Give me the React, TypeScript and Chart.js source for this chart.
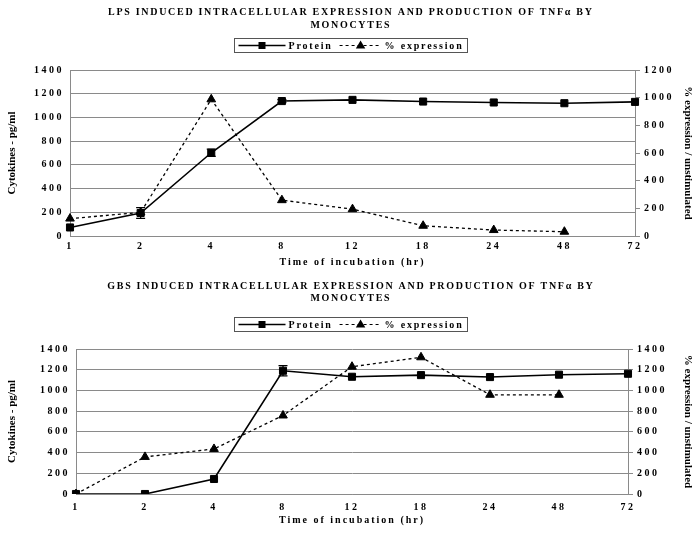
import React, { useEffect, useRef } from "react";
import { Chart, registerables } from "chart.js";

Chart.register(...registerables);

// ---------- data ----------
const timeLabels = ["1", "2", "4", "8", "12", "18", "24", "48", "72"];

const lpsProtein = [72, 194, 702, 1138, 1148, 1134, 1126, 1120, 1131];
const lpsProteinErr = [0, 45, 30, 12, 0, 0, 0, 0, 0];
const lpsExpression = [126, 170, 988, 259, 194, 74, 43, 31, null];

const gbsProtein = [0, 0, 145, 1190, 1132, 1148, 1129, 1152, 1161];
const gbsProteinErr = [0, 0, 0, 50, 0, 0, 0, 0, 0];
const gbsExpression = [0, 358, 435, 758, 1229, 1320, 958, 958, null];

const cytokineTicks = [0, 200, 400, 600, 800, 1000, 1200, 1400];
const lpsExpressionTicks = [0, 200, 400, 600, 800, 1000, 1200];
const gbsExpressionTicks = [0, 200, 400, 600, 800, 1000, 1200, 1400];

const seriesNames = ["Protein", "% expression"];
const lpsTitle = ["LPS INDUCED INTRACELLULAR EXPRESSION AND PRODUCTION OF TNFα BY", "MONOCYTES"];
const gbsTitle = ["GBS INDUCED INTRACELLULAR EXPRESSION AND PRODUCTION OF TNFα BY", "MONOCYTES"];
const xAxisTitle = "Time of incubation (hr)";
const leftAxisTitle = "Cytokines - pg/ml";
const rightAxisTitle = "% expression / unstimulated";

// ---------- styling ----------
const FONT = "'Liberation Serif', 'Times New Roman', Times, serif";
const GRID = "#8a8a8a";

// letter spacing for tick labels and axis titles
const spacingPlugin = {
  id: "textSpacing",
  beforeDraw(chart: any) {
    const ctx = chart.ctx as any;
    ctx.letterSpacing = "2.5px";
    Object.values(chart.scales).forEach((s: any) => {
      if (!s.__wrappedTitle) {
        const orig = s.drawTitle;
        s.drawTitle = function (...args: any[]) {
          const c = this.ctx as any;
          const prev = c.letterSpacing;
          c.letterSpacing = this.id === "x" ? "2px" : "0px";
          orig.apply(this, args);
          c.letterSpacing = prev;
        };
        s.__wrappedTitle = true;
      }
    });
  },
  beforeDatasetsDraw(chart: any) {
    (chart.ctx as any).letterSpacing = "0px";
  },
};

function drawSquare(ctx: CanvasRenderingContext2D, x: number, y: number, s: number) {
  ctx.fillRect(x - s / 2, y - s / 2, s, s);
}
function drawTriangle(ctx: CanvasRenderingContext2D, x: number, y: number, r: number) {
  ctx.beginPath();
  ctx.moveTo(x, y - r);
  ctx.lineTo(x + r * 0.95, y + r * 0.6);
  ctx.lineTo(x - r * 0.95, y + r * 0.6);
  ctx.closePath();
  ctx.fill();
}

// title + boxed legend
const headerPlugin = {
  id: "header",
  afterDraw(chart: any, _args: any, opts: any) {
    const ctx = chart.ctx as any;
    const cx = chart.width / 2;
    ctx.save();
    ctx.fillStyle = "#000";
    ctx.textBaseline = "middle";
    ctx.textAlign = "center";
    ctx.font = `bold 10px ${FONT}`;
    ctx.letterSpacing = "1.7px";
    const lines: string[] = opts.lines || [];
    lines.forEach((t, i) => ctx.fillText(t, cx + 0.85, opts.titleY[i]));

    // legend
    ctx.letterSpacing = "1.8px";
    const ds = chart.data.datasets;
    const w0 = ctx.measureText(ds[0].label).width;
    const w1 = ctx.measureText(ds[1].label).width;
    const s0 = 47, s1 = 42, gap = 3, between = 7, pad = 4;
    const total = pad + s0 + gap + w0 + between + s1 + gap + w1 + pad;
    const left = Math.round(cx - total / 2) + 0.5;
    const top = opts.legendTop + 0.5;
    const h = opts.legendHeight;
    ctx.strokeStyle = "#555";
    ctx.lineWidth = 1;
    ctx.strokeRect(left, top, Math.round(total), h);
    const my = top + h / 2;
    let x = left + pad;
    ctx.strokeStyle = "#000";
    ctx.lineWidth = 1.5;
    ctx.setLineDash([]);
    ctx.beginPath();
    ctx.moveTo(x, my);
    ctx.lineTo(x + s0, my);
    ctx.stroke();
    drawSquare(ctx, x + s0 / 2, my, 7);
    x += s0 + gap;
    ctx.textAlign = "left";
    ctx.fillText(ds[0].label, x, my + 0.5);
    x += w0 + between;
    ctx.lineWidth = 1.2;
    ctx.setLineDash([3, 3]);
    ctx.beginPath();
    ctx.moveTo(x, my);
    ctx.lineTo(x + s1, my);
    ctx.stroke();
    ctx.setLineDash([]);
    drawTriangle(ctx, x + s1 / 2, my, 5);
    x += s1 + gap;
    ctx.fillText(ds[1].label, x, my + 0.5);
    ctx.letterSpacing = "0px";
    ctx.restore();
  },
};

// error bars read from dataset.errorBars
const errorBarPlugin = {
  id: "errorBars",
  afterDatasetsDraw(chart: any) {
    const ctx = chart.ctx;
    chart.data.datasets.forEach((ds: any, di: number) => {
      if (!ds.errorBars) return;
      const meta = chart.getDatasetMeta(di);
      const yScale = chart.scales[ds.yAxisID];
      ctx.save();
      ctx.strokeStyle = "#000";
      ctx.lineWidth = 1.3;
      ds.errorBars.forEach((e: number, i: number) => {
        const v = ds.data[i];
        if (!e || v == null) return;
        const px = meta.data[i].x;
        const yt = yScale.getPixelForValue(v + e);
        const yb = yScale.getPixelForValue(v - e);
        ctx.beginPath();
        ctx.moveTo(px, yt);
        ctx.lineTo(px, yb);
        ctx.moveTo(px - 4.5, yt);
        ctx.lineTo(px + 4.5, yt);
        ctx.moveTo(px - 4.5, yb);
        ctx.lineTo(px + 4.5, yb);
        ctx.stroke();
      });
      ctx.restore();
    });
  },
};

type PanelSpec = {
  title: string[];
  protein: (number | null)[];
  proteinErr: number[];
  expression: (number | null)[];
  rightTicks: number[];
  titleY: number[];
  legendTop: number;
  padTop: number;
  leftWidth: number;
  rightWidth: number;
  xHeight: number;
  xTickPad: number;
  xTitlePad: number;
};

function buildConfig(p: PanelSpec): any {
  const tickFont = { family: FONT, size: 10, weight: "bold" as const };
  const yTitleFont = { family: FONT, size: 11, weight: "bold" as const };
  return {
    type: "line",
    data: {
      labels: timeLabels,
      datasets: [
        {
          label: seriesNames[0],
          data: p.protein,
          errorBars: p.proteinErr,
          yAxisID: "y",
          borderColor: "#000",
          backgroundColor: "#000",
          borderWidth: 1.6,
          pointStyle: "rect",
          pointRadius: 5,
          pointBorderWidth: 1,
          tension: 0,
        },
        {
          label: seriesNames[1],
          data: p.expression,
          yAxisID: "y1",
          borderColor: "#000",
          backgroundColor: "#000",
          borderWidth: 1.3,
          borderDash: [3, 3],
          pointStyle: "triangle",
          pointRadius: 5,
          pointBorderWidth: 1,
          tension: 0,
          spanGaps: false,
        },
      ],
    },
    options: {
      animation: false,
      responsive: true,
      maintainAspectRatio: false,
      layout: { padding: { top: p.padTop, left: 0, right: 0, bottom: 0 } },
      plugins: {
        legend: { display: false },
        title: { display: false },
        tooltip: { enabled: false },
        header: { lines: p.title, titleY: p.titleY, legendTop: p.legendTop, legendHeight: 14 },
      },
      scales: {
        x: {
          type: "category",
          offset: false,
          grid: { display: false, drawTicks: false },
          border: { display: true, color: GRID },
          ticks: { font: tickFont, color: "#000", padding: p.xTickPad, maxRotation: 0, autoSkip: false },
          title: {
            display: true,
            text: xAxisTitle,
            font: tickFont,
            color: "#000",
            padding: { top: 0, bottom: p.xTitlePad },
          },
          afterFit: (s: any) => {
            s.height = p.xHeight;
          },
        },
        y: {
          type: "linear",
          position: "left",
          min: 0,
          max: cytokineTicks[cytokineTicks.length - 1],
          afterBuildTicks: (s: any) => {
            s.ticks = cytokineTicks.map((v) => ({ value: v }));
          },
          ticks: { font: tickFont, color: "#000", padding: 6, callback: (v: any) => String(v) },
          grid: { color: GRID, drawTicks: false, lineWidth: 1 },
          border: { display: true, color: GRID },
          title: {
            display: true,
            text: leftAxisTitle,
            font: yTitleFont,
            color: "#000",
            padding: { top: 6, bottom: 0 },
          },
          afterFit: (s: any) => {
            s.width = p.leftWidth;
          },
        },
        y1: {
          type: "linear",
          position: "right",
          min: 0,
          max: p.rightTicks[p.rightTicks.length - 1],
          afterBuildTicks: (s: any) => {
            s.ticks = p.rightTicks.map((v) => ({ value: v }));
          },
          ticks: { font: tickFont, color: "#000", padding: 4, callback: (v: any) => String(v) },
          grid: { drawOnChartArea: false, drawTicks: true, tickLength: 5, color: GRID },
          border: { display: true, color: GRID },
          title: {
            display: true,
            text: rightAxisTitle,
            font: yTitleFont,
            color: "#000",
            padding: { top: 6, bottom: 0 },
          },
          afterFit: (s: any) => {
            s.width = p.rightWidth;
          },
        },
      },
    },
    plugins: [spacingPlugin, errorBarPlugin, headerPlugin],
  };
}

function ChartPanel({ spec, top, height }: { spec: PanelSpec; top: number; height: number }) {
  const ref = useRef<HTMLCanvasElement>(null);
  useEffect(() => {
    if (!ref.current) return;
    const chart = new Chart(ref.current, buildConfig(spec));
    return () => chart.destroy();
  }, []);
  return (
    <div style={{ position: "absolute", left: 0, top, width: 700, height }}>
      <canvas ref={ref} />
    </div>
  );
}

const lpsSpec: PanelSpec = {
  title: lpsTitle,
  protein: lpsProtein,
  proteinErr: lpsProteinErr,
  expression: lpsExpression,
  rightTicks: lpsExpressionTicks,
  titleY: [12, 25],
  legendTop: 38,
  padTop: 70,
  leftWidth: 70,
  rightWidth: 65,
  xHeight: 32,
  xTickPad: 4,
  xTitlePad: 0,
};

const gbsSpec: PanelSpec = {
  title: gbsTitle,
  protein: gbsProtein,
  proteinErr: gbsProteinErr,
  expression: gbsExpression,
  rightTicks: gbsExpressionTicks,
  titleY: [18, 30],
  legendTop: 49,
  padTop: 81,
  leftWidth: 76,
  rightWidth: 72,
  xHeight: 39,
  xTickPad: 7,
  xTitlePad: 7,
};

export default function App() {
  return (
    <div style={{ position: "absolute", left: 0, top: 0, width: 700, height: 533, background: "#fff" }}>
      <ChartPanel spec={lpsSpec} top={0} height={268} />
      <ChartPanel spec={gbsSpec} top={268} height={265} />
    </div>
  );
}
